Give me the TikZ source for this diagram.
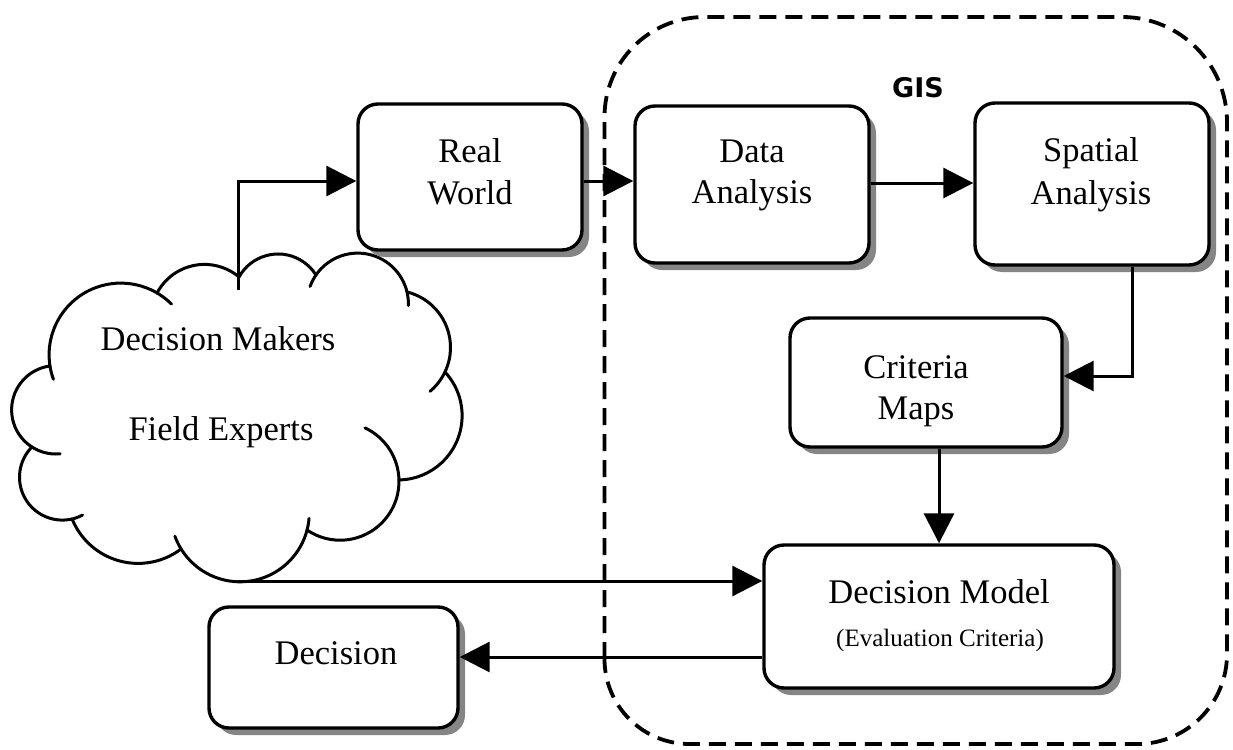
\documentclass[tikz,border=0pt]{standalone}
\usepackage{fontspec}
\setmainfont{Liberation Serif}
\newfontfamily\gisfont{DejaVu Sans}
\usetikzlibrary{arrows.meta,calc,shadows}
\tikzset{
  box/.style={draw, line width=3.4pt, rounded corners=20pt, fill=white,
    general shadow={fill=black!48, shadow xshift=7pt, shadow yshift=-7pt},
    inner sep=0pt},
  arr/.style={line width=3pt, -{Triangle[length=30pt,width=30pt]}},
  txt/.style={font=\fontsize{34.5}{41}\selectfont, anchor=base, inner sep=0pt},
  smalltxt/.style={font=\fontsize{25}{30}\selectfont, anchor=base, inner sep=0pt},
  cloudline/.style={line width=3pt, line cap=round},
  gisframe/.style={draw, line width=3.8pt, dash pattern=on 17pt off 9pt}
}
\newcommand\lobe[4]{\draw[cloudline] (#1) ++(#2:#4) arc[start angle=#2, end angle=#3, radius=#4];}
\begin{document}
\begin{tikzpicture}[x=1pt,y=-1pt]
\fill[white] (0,0) rectangle (1233,749);
\useasboundingbox (0,0) rectangle (1233,749);

% GIS frame
\draw[gisframe] (604.5,659) -- (604.5,117) arc[start angle=180, end angle=270, radius=100]
  -- (1122,17) arc[start angle=270, end angle=360, radius=105]
  -- (1227,654) arc[start angle=0, end angle=90, radius=90]
  -- (689.5,744) arc[start angle=90, end angle=180, radius=85] -- cycle;
\node[font=\gisfont\bfseries\fontsize{27}{30}\selectfont, anchor=base, inner sep=0pt] (gislbl) at (918,98) {GIS};

% cloud: lobe centres
\coordinate (c1) at (120.8,354.8);
\coordinate (c2) at (204.5,318.1);
\coordinate (c3) at (278.1,298.7);
\coordinate (c4) at (357.7,303.8);
\coordinate (c5) at (393.3,347.5);
\coordinate (c6) at (397.8,415.7);
\coordinate (c7) at (340.1,481.3);
\coordinate (c8) at (240,512.5);
\coordinate (c9) at (138.1,492.2);
\coordinate (c10) at (62.4,477.2);
\coordinate (c11) at (55.8,409.8);
\lobe{c1}{160}{315}{71.7}
\lobe{c2}{207.9}{310}{53.7}
\lobe{c3}{209}{328}{44.7}
\lobe{c4}{200}{362}{50.7}
\lobe{c5}{283.9}{410}{57.2}
\lobe{c6}{317.2}{448.9}{64.3}
\lobe{c7}{295}{484.2}{58.9}
\lobe{c8}{5}{160}{69.3}
\lobe{c9}{52.9}{157.9}{71.2}
\lobe{c10}{62}{224.8}{42.9}
\lobe{c11}{84.3}{262.5}{44.2}
\coordinate (cloudtop) at (238,290);
\coordinate (cloudbot) at (238,581);
\node[txt] (dmk) at (218,350) {Decision Makers};
\node[txt] (fex) at (221,440) {Field Experts};

% boxes
\node[box, minimum width=224pt, minimum height=146pt] (rw) at (470,177) {};
\node[box, minimum width=234pt, minimum height=157pt] (da) at (752,184.5) {};
\node[box, minimum width=234pt, minimum height=162pt] (sa) at (1092,184) {};
\node[box, minimum width=272pt, minimum height=129pt] (cm) at (926,382.5) {};
\node[box, minimum width=350pt, minimum height=143pt] (dm) at (939,616.5) {};
\node[box, minimum width=249pt, minimum height=121pt] (dec) at (333.5,667.5) {};

\node[txt] (rw1) at (470,162) {Real};
\node[txt] (rw2) at (470,204) {World};
\node[txt] (da1) at (752,162) {Data};
\node[txt] (da2) at (752,203) {Analysis};
\node[txt] (sa1) at (1091,161) {Spatial};
\node[txt] (sa2) at (1091,204) {Analysis};
\node[txt] (cm1) at (916,378) {Criteria};
\node[txt] (cm2) at (916,419) {Maps};
\node[txt] (dm1) at (939,603) {Decision Model};
\node[smalltxt] (dm2) at (940,646) {(Evaluation Criteria)};
\node[txt] (dec1) at (336,664) {Decision};

% connectors
\draw[arr] (cloudtop) |- (rw.west |- 0,181);
\draw[arr] (rw.east |- 0,181) -- (da.west |- 0,181);
\draw[arr] (da.east |- 0,183) -- (sa.west |- 0,183);
\draw[arr] (sa.south -| 1132,0) |- (cm.east |- 0,376);
\draw[arr] (cm.south -| dm.north) -- (dm.north);
\draw[arr] (cloudbot) -- (dm.west |- cloudbot);
\draw[arr] (dm.west |- 0,657) -- (dec.east |- 0,657);
\end{tikzpicture}
\end{document}
